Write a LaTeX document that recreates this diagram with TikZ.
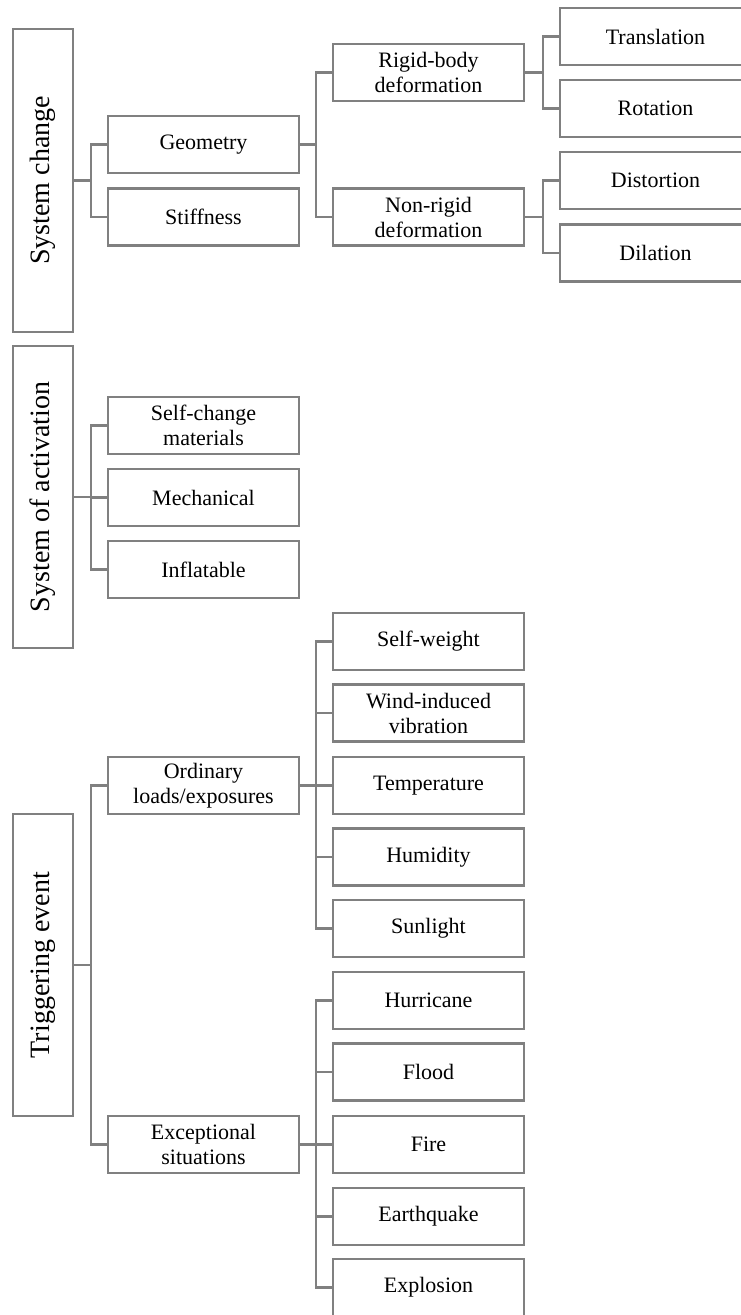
\documentclass[tikz,border=0pt]{standalone}
\usepackage{fontspec}
\setmainfont{Liberation Serif}
\definecolor{lc}{RGB}{128,128,128}
\tikzset{
  bx/.style 2 args={draw=lc, line width=1.6pt, minimum width={#1*0.75pt}, minimum height={#2*0.75pt},
    inner sep=0pt, align=center, font=\fontsize{16.5}{18.75}\selectfont},
  rottxt/.style={rotate=90, inner sep=0pt, font=\fontsize{21}{25}\selectfont},
  ln/.style={draw=lc, line width=1.6pt},
}
\begin{document}
\begin{tikzpicture}[x=0.75pt,y=-0.75pt]
\useasboundingbox (0,0) rectangle (741,1315);
\clip (0,0) rectangle (741,1315);
\fill[white] (0,0) rectangle (741,1315);

% roots
\node[bx={60}{303}] (SC) at (43,180.5) {};
\node[rottxt] (SCt) at (SC.center) {System change};
\node[bx={60}{302}] (SA) at (43,497) {};
\node[rottxt] (SAt) at (SA.center) {System of activation};
\node[bx={60}{302}] (TE) at (43,965) {};
\node[rottxt] (TEt) at (TE.center) {Triggering event};

% level 2
\node[bx={191}{57}] (Geo) at (203.5,144.5) {Geometry};
\node[bx={191}{57}] (Stf) at (203.5,217) {Stiffness};
\node[bx={191}{57}] (Scm) at (203.5,425.5) {Self-change\\materials};
\node[bx={191}{57}] (Mec) at (203.5,497.5) {Mechanical};
\node[bx={191}{57}] (Inf) at (203.5,569.5) {Inflatable};
\node[bx={191}{57}] (Ord) at (203.5,785.5) {Ordinary\\loads/exposures};
\node[bx={191}{57}] (Exc) at (203.5,1144.5) {Exceptional\\situations};

% level 3
\node[bx={191}{57}] (Rig) at (428.5,72.5) {Rigid-body\\deformation};
\node[bx={191}{57}] (Nrg) at (428.5,217) {Non-rigid\\deformation};
\node[bx={191}{57}] (Swt) at (428.5,641.5) {Self-weight};
\node[bx={191}{57}] (Wnd) at (428.5,713) {Wind-induced\\vibration};
\node[bx={191}{57}] (Tmp) at (428.5,785.5) {Temperature};
\node[bx={191}{57}] (Hum) at (428.5,857) {Humidity};
\node[bx={191}{57}] (Sun) at (428.5,928.5) {Sunlight};
\node[bx={191}{57}] (Hur) at (428.5,1000.5) {Hurricane};
\node[bx={191}{57}] (Fld) at (428.5,1072) {Flood};
\node[bx={191}{57}] (Fir) at (428.5,1144.5) {Fire};
\node[bx={191}{57}] (Eqk) at (428.5,1216.5) {Earthquake};
\node[bx={191}{57}] (Exp) at (428.5,1287.5) {Explosion};

% level 4
\node[bx={191}{57}] (Tra) at (655.5,36.5) {Translation};
\node[bx={191}{57}] (Rot) at (655.5,108.5) {Rotation};
\node[bx={191}{57}] (Dis) at (655.5,180.5) {Distortion};
\node[bx={191}{57}] (Dil) at (655.5,253) {Dilation};

% connectors
\draw[ln] (SC.east) -- ++(17,0) |- (Geo.west);
\draw[ln] (SC.east) ++(17,0) |- (Stf.west);

\draw[ln] (Geo.east) -- ++(16,0) |- (Rig.west);
\draw[ln] (Geo.east) ++(16,0) |- (Nrg.west);

\draw[ln] (Rig.east) -- ++(18,0) |- (Tra.west);
\draw[ln] (Rig.east) ++(18,0) |- (Rot.west);
\draw[ln] (Nrg.east) -- ++(18,0) |- (Dis.west);
\draw[ln] (Nrg.east) ++(18,0) |- (Dil.west);

\draw[ln] (SA.east) -- ++(17,0) |- (Scm.west);
\draw[ln] (SA.east) ++(17,0) |- (Mec.west);
\draw[ln] (SA.east) ++(17,0) |- (Inf.west);

\draw[ln] (TE.east) -- ++(17,0) |- (Ord.west);
\draw[ln] (TE.east) ++(17,0) |- (Exc.west);

\draw[ln] (Ord.east) -- ++(16,0) |- (Swt.west);
\draw[ln] (Ord.east) ++(16,0) |- (Wnd.west);
\draw[ln] (Ord.east) ++(16,0) |- (Tmp.west);
\draw[ln] (Ord.east) ++(16,0) |- (Hum.west);
\draw[ln] (Ord.east) ++(16,0) |- (Sun.west);

\draw[ln] (Exc.east) -- ++(16,0) |- (Hur.west);
\draw[ln] (Exc.east) ++(16,0) |- (Fld.west);
\draw[ln] (Exc.east) ++(16,0) |- (Fir.west);
\draw[ln] (Exc.east) ++(16,0) |- (Eqk.west);
\draw[ln] (Exc.east) ++(16,0) |- (Exp.west);
\end{tikzpicture}
\end{document}
